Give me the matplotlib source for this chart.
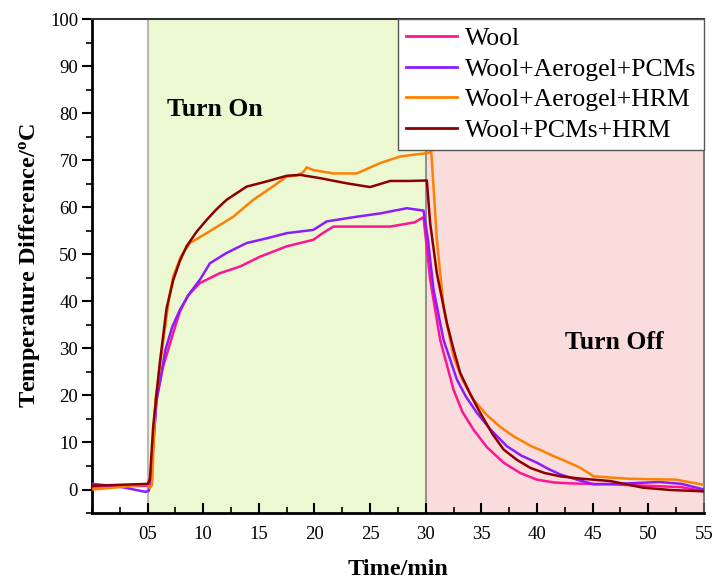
import numpy as np
import matplotlib
matplotlib.use('Agg')
import matplotlib.pyplot as plt
from matplotlib.ticker import MultipleLocator, FixedLocator

plt.rcParams['font.family'] = ['Liberation Serif', 'DejaVu Serif']
plt.rcParams['mathtext.fontset'] = 'custom'
plt.rcParams['mathtext.rm'] = 'Liberation Serif'

#%% data (time in min, temperature difference in C)
labels = ['Wool', 'Wool+Aerogel+PCMs', 'Wool+Aerogel+HRM', 'Wool+PCMs+HRM']
colors = ['#ff1493', '#8a1cff', '#ff8000', '#8b0000']

t_wool = [0, 2.5, 5.0, 5.3, 5.8, 6.4, 7.3, 7.9, 8.6, 9.7, 11.5, 13.3, 15.1, 17.5, 19.9,
          20.8, 21.7, 24.4, 26.8, 29.0, 29.8, 30.4, 31.3, 32.5, 33.3, 34.3, 35.5,
          37.0, 38.5, 40.0, 41.5, 43.0, 46.6, 51.0, 53.0, 55]
y_wool = [0.6, 0.7, 0.8, 3.0, 19.1, 26.2, 33.3, 37.8, 41.2, 43.9, 46.0, 47.4, 49.5, 51.7, 53.1,
          54.6, 55.9, 55.9, 55.9, 56.8, 57.9, 44.6, 31.8, 21.2, 16.5, 12.7, 9.0,
          5.7, 3.5, 2.1, 1.5, 1.3, 1.1, 0.7, 0.5, -0.4]

t_aer_pcm = [0, 2.5, 4.8, 5.1, 5.3, 5.8, 6.6, 7.2, 7.9, 8.8, 9.7, 10.6, 12.1, 13.9, 15.7, 17.5,
             19.9, 21.1, 23.8, 25.9, 28.3, 29.8, 30.2, 30.7, 31.6, 32.8, 33.6, 34.6, 35.8,
             37.3, 38.6, 40.0, 41.0, 42.1, 43.6, 45.1, 48.1, 51.0, 53.0, 55]
y_aer_pcm = [1.2, 0.6, -0.5, -0.3, 3.0, 19.0, 29.7, 34.5, 38.2, 41.8, 44.6, 48.1, 50.3, 52.4, 53.4, 54.5,
             55.2, 57.0, 58.0, 58.7, 59.8, 59.3, 53.1, 42.5, 31.8, 23.4, 19.8, 16.3, 12.8,
             9.2, 7.2, 5.7, 4.4, 3.2, 2.1, 1.1, 1.3, 1.6, 1.2, 0.0]

t_aer_hrm = [0, 2.5, 5.0, 5.2, 5.4, 5.7, 6.3, 6.9, 7.3, 8.0, 8.8, 10.3, 12.7, 14.5, 16.0,
             17.5, 18.5, 19.0, 19.3, 19.9, 21.7, 23.8, 25.9, 27.7, 29.0, 30.1, 30.5,
             31.0, 31.6, 32.5, 33.3, 34.3, 35.5, 36.7, 37.9, 39.5, 40.5, 41.5, 42.7,
             43.9, 45.1, 48.1, 50.0, 52.5, 55]
y_aer_hrm = [0.0, 0.5, 1.1, 0.3, 1.0, 19.1, 29.7, 40.3, 45.3, 49.6, 52.4, 54.5, 58.0, 61.6, 64.0,
             66.5, 66.8, 67.5, 68.5, 67.9, 67.2, 67.2, 69.4, 70.8, 71.2, 71.5, 71.8,
             53.1, 38.9, 28.3, 23.3, 19.1, 15.8, 13.3, 11.3, 9.2, 8.2, 7.1, 5.9,
             4.6, 2.8, 2.3, 2.2, 2.1, 1.0]

t_pcm_hrm = [0, 2.5, 5.0, 5.2, 5.5, 6.1, 6.7, 7.3, 7.9, 8.5, 9.4, 10.3, 11.2, 12.1, 13.9, 15.7,
             17.5, 18.7, 20.5, 22.9, 25.0, 26.8, 28.5, 30.1, 30.4, 31.0, 31.9, 32.5, 33.1,
             34.0, 34.9, 36.0, 37.0, 38.2, 39.4, 40.7, 42.1, 44.0, 46.6, 49.5, 52.0, 55]
y_pcm_hrm = [0.8, 1.0, 1.2, 2.0, 13.4, 27.0, 38.5, 44.5, 48.6, 51.7, 54.8, 57.3, 59.6, 61.6, 64.4, 65.5,
             66.7, 66.9, 66.2, 65.1, 64.3, 65.6, 65.6, 65.7, 56.6, 46.0, 35.4, 29.8, 24.8,
             20.3, 16.3, 11.8, 8.5, 6.3, 4.6, 3.5, 2.8, 2.3, 1.8, 0.4, -0.1, -0.4]

series_t = [t_wool, t_aer_pcm, t_aer_hrm, t_pcm_hrm]
series_y = [y_wool, y_aer_pcm, y_aer_hrm, y_pcm_hrm]

t_on, t_off, t_end = 5, 30, 55
x_ticks = [5, 10, 15, 20, 25, 30, 35, 40, 45, 50, 55]
x_ticklabels = ['05', '10', '15', '20', '25', '30', '35', '40', '45', '50', '55']

#%% figure
fig = plt.figure(figsize=(7.16, 5.81), dpi=100)
ax = fig.add_axes([0.1285, 0.117, 0.8545, 0.850])

# heating / cooling periods
ax.axvspan(t_on, t_off, color='#ecf8d2', zorder=0)
ax.axvspan(t_off, t_end, color='#fbdcdc', zorder=0)
ax.axvline(t_on, color='#b8b8b8', lw=1.5, zorder=1)
ax.axvline(t_off, color='#808080', lw=1.2, zorder=1)

for t, y, c, lab in zip(series_t, series_y, colors, labels):
    ax.plot(t, y, color=c, lw=1.8, label=lab, zorder=3)

ax.set_xlim(0, 55)
ax.set_ylim(-5, 100)

ax.xaxis.set_major_locator(FixedLocator(x_ticks))
ax.set_xticklabels(x_ticklabels)
ax.xaxis.set_minor_locator(MultipleLocator(2.5))
ax.yaxis.set_major_locator(MultipleLocator(10))
ax.yaxis.set_minor_locator(MultipleLocator(5))
ax.tick_params(axis='x', which='major', direction='in', length=7, width=1.5,
               pad=9, labelsize=13.5)
ax.tick_params(axis='x', which='minor', direction='in', length=4, width=1.2)
ax.tick_params(axis='y', which='major', direction='out', length=7, width=1.5,
               pad=3, labelsize=13.5)
ax.tick_params(axis='y', which='minor', direction='out', length=4, width=1.2)

ax.spines['left'].set_linewidth(2)
ax.spines['bottom'].set_linewidth(2)
ax.spines['top'].set_linewidth(1.5)
ax.spines['top'].set_color('#333333')
ax.spines['right'].set_linewidth(1.2)
ax.spines['right'].set_color('#666666')

ax.set_xlabel('Time/min', fontsize=17.5, fontweight='bold', labelpad=12)
ax.set_ylabel('Temperature Difference/$\\mathregular{^o}$C', fontsize=17.5,
              fontweight='bold', labelpad=6)

ax.text(6.7, 80.7, 'Turn On', fontsize=18.5, fontweight='bold', va='center', ha='left')
ax.text(42.5, 31.2, 'Turn Off', fontsize=18.5, fontweight='bold', va='center', ha='left')

leg = ax.legend(loc='upper right', fontsize=18.5, frameon=True, fancybox=False,
                borderaxespad=0, borderpad=0.3, labelspacing=0.3,
                handlelength=2.0, handletextpad=0.3)
leg.get_frame().set_edgecolor('#555555')
leg.get_frame().set_linewidth(1.0)
leg.get_frame().set_alpha(1)
for line in leg.get_lines():
    line.set_linewidth(2)

fig.savefig('out.png', dpi=100)
